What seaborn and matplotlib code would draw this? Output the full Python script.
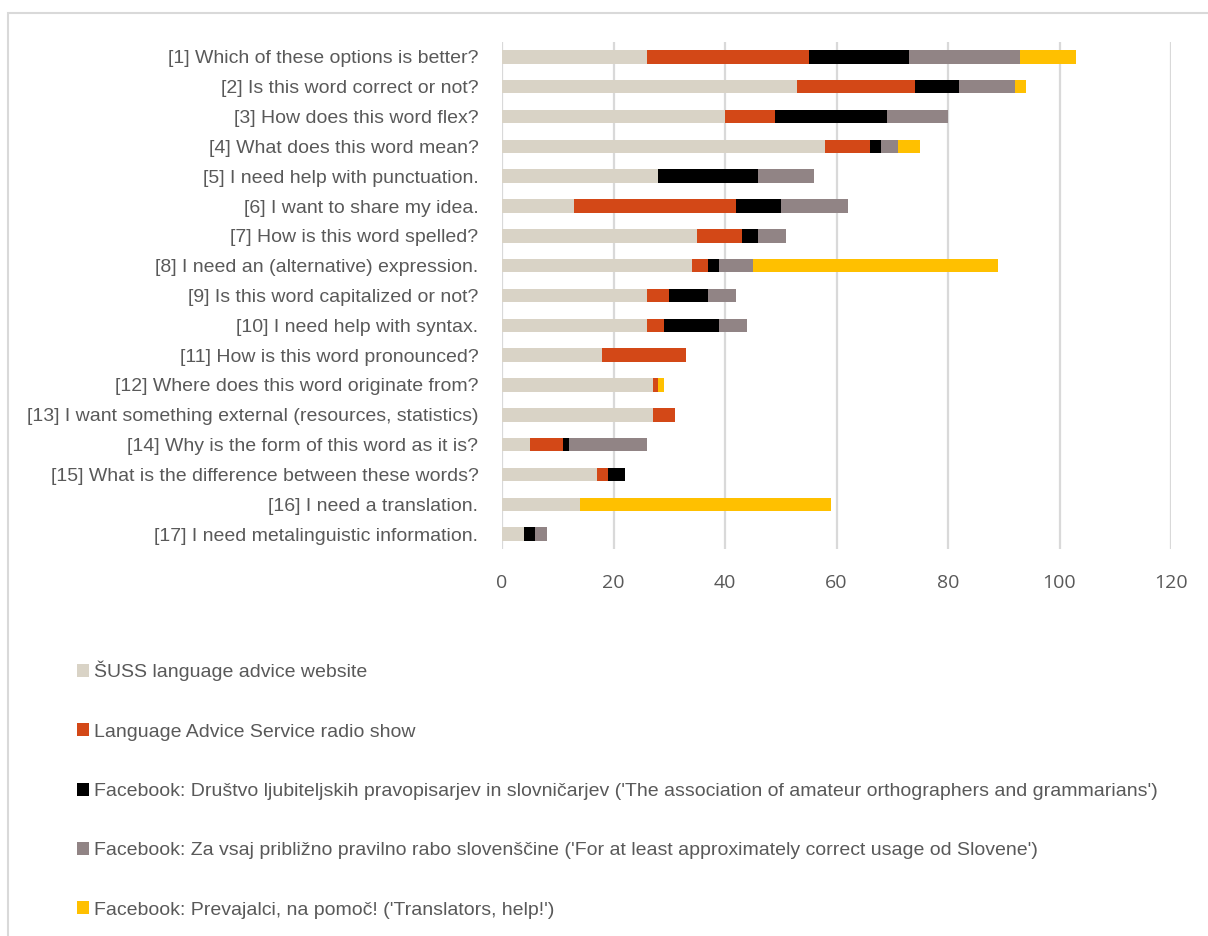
import numpy as np
import pandas as pd
import matplotlib
matplotlib.use("Agg")
import matplotlib.pyplot as plt
import seaborn as sns
from matplotlib.patches import Rectangle, Patch

categories = [
    "[1] Which of these options is better?",
    "[2] Is this word correct or not?",
    "[3] How does this word flex?",
    "[4] What does this word mean?",
    "[5] I need help with punctuation.",
    "[6] I want to share my idea.",
    "[7] How is this word spelled?",
    "[8] I need an (alternative) expression.",
    "[9] Is this word capitalized or not?",
    "[10] I need help with syntax.",
    "[11] How is this word pronounced?",
    "[12] Where does this word originate from?",
    "[13] I want something external (resources, statistics)",
    "[14] Why is the form of this word as it is?",
    "[15] What is the difference between these words?",
    "[16] I need a translation.",
    "[17] I need metalinguistic information.",
]

series_names = [
    "ŠUSS language advice website",
    "Language Advice Service radio show",
    "Facebook: Društvo ljubiteljskih pravopisarjev in slovničarjev ('The association of amateur orthographers and grammarians')",
    "Facebook: Za vsaj približno pravilno rabo slovenščine ('For at least approximately correct usage od Slovene')",
    "Facebook: Prevajalci, na pomoč! ('Translators, help!')",
]

suss = [26, 53, 40, 58, 28, 13, 35, 34, 26, 26, 18, 27, 27, 5, 17, 14, 4]
radio = [29, 21, 9, 8, 0, 29, 8, 3, 4, 3, 15, 1, 4, 6, 2, 0, 0]
fb_assoc = [18, 8, 20, 2, 18, 8, 3, 2, 7, 10, 0, 0, 0, 1, 3, 0, 2]
fb_usage = [20, 10, 11, 3, 10, 12, 5, 6, 5, 5, 0, 0, 0, 14, 0, 0, 2]
fb_transl = [10, 2, 0, 4, 0, 0, 0, 44, 0, 0, 0, 1, 0, 0, 0, 45, 0]

colors = ["#D9D3C6", "#D34817", "#000000", "#918485", "#FFC000"]

x_ticks = [0, 20, 40, 60, 80, 100, 120]

sns.set_theme(style="white")
narrow = ["Liberation Sans Narrow", "Liberation Sans", "DejaVu Sans"]
plt.rcParams["font.family"] = narrow

df = pd.DataFrame({"category": categories})
values = [suss, radio, fb_assoc, fb_usage, fb_transl]
cum = np.cumsum(np.array(values), axis=0)

fig = plt.figure(figsize=(12.08, 9.36), dpi=100)
ax = fig.add_axes([502 / 1208, 1 - 549 / 936, (1171 - 502) / 1208, (549 - 42) / 936])

for i in range(len(values) - 1, -1, -1):
    d = df.copy()
    d["value"] = cum[i]
    sns.barplot(data=d, x="value", y="category", orient="h", color=colors[i],
                width=0.45, ax=ax, saturation=1, edgecolor="none", linewidth=0)

ax.set_xlim(0, 120)
ax.set_ylim(len(categories) - 0.5, -0.5)
ax.set_xticks(x_ticks)
ax.set_xlabel("")
ax.set_ylabel("")
ax.grid(axis="x", color="#D9D9D9", linewidth=1.6)
ax.set_axisbelow(True)
for s in ax.spines.values():
    s.set_visible(False)
ax.tick_params(axis="y", length=0, pad=17, labelsize=14.0, labelcolor="#595959")
ax.tick_params(axis="x", length=0, pad=18, labelsize=14.0, labelcolor="#595959")
for lab in ax.get_xticklabels():
    lab.set_fontfamily(["Open Sans", "DejaVu Sans"])
    lab.set_fontsize(14)

handles = [Patch(facecolor=c, edgecolor="none") for c in colors]
fig.legend(handles, series_names, loc="upper left", bbox_to_anchor=(69 / 1208, 1 - 653 / 936),
           frameon=False, fontsize=14.0, labelcolor="#595959", handlelength=0.65,
           handleheight=0.65, handletextpad=0.25, labelspacing=2.16, borderaxespad=0)

fig.patches.append(Rectangle((8 / 1208, -0.1), 1.2, 1.1 - 13 / 936, transform=fig.transFigure,
                             fill=False, edgecolor="#D9D9D9", linewidth=1.5))

fig.savefig("out.png", dpi=100, facecolor="white")
